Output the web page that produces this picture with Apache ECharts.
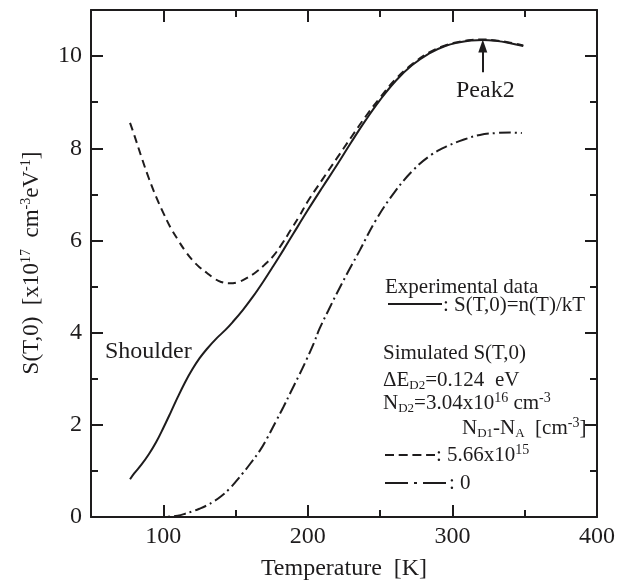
<!DOCTYPE html>
<html><head><meta charset="utf-8">
<script src="https://cdn.jsdelivr.net/npm/echarts@6/dist/echarts.min.js"></script>
<style>html,body{margin:0;padding:0;background:#fff}#c{width:629px;height:581px}</style>
</head><body><div id="c"></div>
<script>
// ---- tick values ----
const xMajorTicks = [100, 200, 300, 400];
const xMinorTicks = [150, 250, 350];
const yMajorTicks = [0, 2, 4, 6, 8, 10];
const yMinorTicks = [1, 3, 5, 7, 9];

// ---- experimental data S(T,0)=n(T)/kT (solid) ----
const expT = [77,80,85,90,95,100,105,110,115,120,125,130,137,143,148,155,162,169,176,183,190,200,210,220,230,240,250,261,272,284,295,305,313,321,330,340,349];
const expS = [0.82,0.95,1.14,1.36,1.62,1.93,2.26,2.60,2.92,3.20,3.44,3.64,3.88,4.06,4.23,4.49,4.78,5.10,5.44,5.79,6.15,6.66,7.15,7.63,8.13,8.61,9.05,9.47,9.80,10.06,10.22,10.30,10.34,10.35,10.33,10.28,10.22];

// ---- simulated, N_D1-N_A = 5.66e15 (dashed) ----
const dashT = [77,80,85,90,95,100,105,110,115,120,125,130,135,140,146,152,158,164,170,176,182,188,194,200,210,220,230,240,250,261,272,284,295,305,313,321,330,340,349];
const dashS = [8.55,8.28,7.80,7.35,6.95,6.60,6.28,6.02,5.78,5.58,5.42,5.30,5.18,5.10,5.07,5.10,5.19,5.31,5.47,5.66,5.92,6.22,6.52,6.85,7.32,7.78,8.24,8.69,9.10,9.51,9.82,10.08,10.23,10.31,10.35,10.36,10.34,10.29,10.23];

// ---- simulated, N_D1-N_A = 0 (dash-dot) ----
const dotT = [77,90,100,105,110,115,120,125,130,135,140,146,150,155,160,167,172,178,183,188,194,199,204,208,214,220,228,236,247,260,273,285,296,308,319,330,340,348];
const dotS = [0,0,0,0.01,0.03,0.07,0.12,0.18,0.25,0.34,0.45,0.62,0.76,0.95,1.15,1.45,1.72,2.08,2.38,2.70,3.08,3.41,3.76,4.08,4.47,4.85,5.33,5.79,6.44,7.05,7.53,7.85,8.04,8.19,8.29,8.33,8.34,8.33];

const peakT = 321, peakArrowFrom = 9.65, peakArrowTo = 10.22;

const FONT = '"Liberation Serif","Times New Roman",serif';
const INK = '#1e1c1d';
const zip = (a, b) => a.map((v, i) => [v, b[i]]);

const lineSt = {color: INK, width: 2};
function xAx(pos, ticks, len, withLabel) {
  const a = {
    type: 'value', position: pos, min: 50, max: 400,
    axisLine: {show: len === 12, onZero: false, lineStyle: lineSt},
    axisTick: {show: true, inside: true, length: len, customValues: ticks, lineStyle: lineSt},
    axisLabel: withLabel ? {show: true, customValues: ticks, margin: 8, fontFamily: FONT, fontSize: 24, color: INK}
                         : {show: false},
    splitLine: {show: false}
  };
  if (withLabel) {
    a.name = 'Temperature  [K]';
    a.nameLocation = 'middle';
    a.nameGap = 40;
    a.nameTextStyle = {fontFamily: FONT, fontSize: 24, color: INK};
  }
  return a;
}
function yAx(pos, ticks, len, withLabel) {
  return {
    type: 'value', position: pos, min: 0, max: 11,
    axisLine: {show: len === 12, onZero: false, lineStyle: lineSt},
    axisTick: {show: true, inside: true, length: len, customValues: ticks, lineStyle: lineSt},
    axisLabel: withLabel ? {show: true, customValues: ticks, margin: 9, fontFamily: FONT, fontSize: 24, color: INK}
                         : {show: false},
    splitLine: {show: false}
  };
}

const chart = echarts.init(document.getElementById('c'), null, {renderer: 'canvas'});

const LF = 21;
const rich = {
  sub: {fontFamily: FONT, fontSize: 13, lineHeight: 14, verticalAlign: 'bottom', fill: INK, color: INK},
  sup: {fontFamily: FONT, fontSize: 14, lineHeight: 14, verticalAlign: 'top', fill: INK, color: INK}
};
function txt(x, y, text, size, extra) {
  return Object.assign({
    type: 'text', x: x, y: y, silent: true, z: 10,
    style: {text: text, fontFamily: FONT, fontSize: size, fill: INK,
            textAlign: 'left', textVerticalAlign: 'middle', lineHeight: 24,
            rich: rich}
  }, extra || {});
}
function ln(x1, y1, x2, y2, dash) {
  return {type: 'line', silent: true, z: 10,
    shape: {x1, y1, x2, y2},
    style: {stroke: INK, lineWidth: 2, lineDash: dash || null}};
}

chart.setOption({
  animation: false,
  backgroundColor: '#fff',
  grid: {left: 91, right: 32, top: 10, bottom: 64, containLabel: false, outerBoundsMode: 'none'},
  xAxis: [xAx('bottom', xMajorTicks, 12, true), xAx('bottom', xMinorTicks, 7, false),
          xAx('top', xMajorTicks, 12, false), xAx('top', xMinorTicks, 7, false)],
  yAxis: [yAx('left', yMajorTicks, 12, true), yAx('left', yMinorTicks, 7, false),
          yAx('right', yMajorTicks, 12, false), yAx('right', yMinorTicks, 7, false)],
  series: [
    {type: 'line', name: 'exp', data: zip(expT, expS), showSymbol: false, smooth: 0.4,
     lineStyle: {color: INK, width: 2, type: 'solid'},
     markLine: {silent: true, animation: false, symbol: ['none', 'triangle'], symbolSize: [0, 10],
       label: {show: false}, lineStyle: {color: INK, width: 2, type: 'solid'},
       data: [[{coord: [peakT, peakArrowFrom], symbol: 'none'},
               {coord: [peakT, peakArrowTo], symbol: 'triangle', symbolSize: [9, 13]}]]}},
    {type: 'line', name: 'dash', data: zip(dashT, dashS), showSymbol: false, smooth: 0.4,
     lineStyle: {color: INK, width: 2, type: [8, 5]}},
    {type: 'line', name: 'dot', data: zip(dotT, dotS), showSymbol: false, smooth: 0.4,
     lineStyle: {color: INK, width: 2, type: [12, 4, 2, 4]}}
  ],
  graphic: [
    txt(32, 263, '', 23,
        {rotation: Math.PI / 2, style: {text: 'S(T,0)  [x10{sup|17}  cm{sup|-3}eV{sup|-1}]', fontFamily: FONT, fontSize: 23, fill: INK,
          textAlign: 'center', textVerticalAlign: 'middle', lineHeight: 26, rich: rich}}),
    txt(456, 91, 'Peak2', 24),
    txt(105, 352, 'Shoulder', 24),
    txt(385, 287, 'Experimental data', LF),
    ln(388, 304, 442, 304),
    txt(443, 305, ': S(T,0)=n(T)/kT', LF),
    txt(383, 353, 'Simulated S(T,0)', LF),
    txt(383, 380, '\u0394E{sub|D2}=0.124', LF),
    txt(495, 380, 'eV', LF),
    txt(383, 403, 'N{sub|D2}=3.04x10{sup|16} cm{sup|-3}', LF),
    txt(462, 428, 'N{sub|D1}-N{sub|A}  [cm{sup|-3}]', LF),
    ln(385, 455, 435, 455, [9, 4.7]),
    txt(436, 455, ': 5.66x10{sup|15}', LF),
    ln(385, 483, 447, 483, [23, 6, 3, 6]),
    txt(449, 483, ': 0', LF)
  ]
});
</script></body></html>
